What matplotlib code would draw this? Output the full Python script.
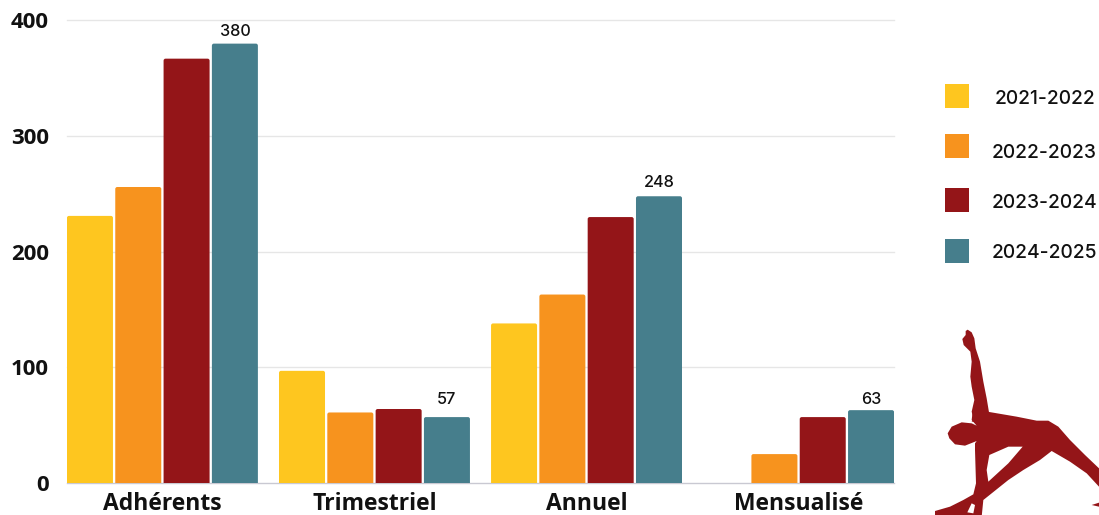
import matplotlib as mpl
mpl.use('Agg')
import matplotlib.pyplot as plt
from matplotlib.patches import FancyBboxPatch, Polygon, Rectangle
from matplotlib.transforms import Affine2D

categories = ['Adhérents', 'Trimestriel', 'Annuel', 'Mensualisé']
seasons = ['2021-2022', '2022-2023', '2023-2024', '2024-2025']
v_2021 = [231, 97, 138, None]
v_2022 = [256, 61, 163, 25]
v_2023 = [367, 64, 230, 57]
v_2024 = [380, 57, 248, 63]
yticks = [0, 100, 200, 300, 400]

colors = ['#FEC61F', '#F7931E', '#941518', '#467E8C']
W, H = 1099, 515

fig = plt.figure(figsize=(W / 100, H / 100), dpi=100)
ax = fig.add_axes([67 / W, (H - 483) / H, 827 / W, 462.5 / H])
ax.set_xlim(-0.45, 3.45)
ax.set_ylim(0, 400)

# pixels -> figure, y going down like in the picture
px = Affine2D().scale(1 / W, -1 / H).translate(0, 1) + fig.transFigure

bar_step = 48.3 / 212
bar_w = 46 / 212
for i, vals in enumerate([v_2021, v_2022, v_2023, v_2024]):
    for j, v in enumerate(vals):
        if v is None:
            continue
        x = j + (i - 1.5) * bar_step
        # rounded top, the bottom corners get clipped by the axes
        ax.add_patch(FancyBboxPatch((x - bar_w / 2, -10), bar_w, v + 10,
                                    boxstyle='round,pad=0,rounding_size=0.0095',
                                    mutation_aspect=183, fc=colors[i], ec='none', zorder=3))

# the labels do not sit at the same distance above their bars
label_gap = [12.5, 18, 14, 11]
for j, v in enumerate(v_2024):
    ax.annotate(str(v), (j + 1.5 * bar_step, v), xytext=(0, label_gap[j] * 0.72),
                textcoords='offset points', ha='center', va='center',
                family='Inter', fontsize=11.7, color='#111111', fontweight='medium')

for y in yticks:
    ax.axhline(y, color='#e6e6e6' if y else '#c9c9d2', lw=1, zorder=1, clip_on=False)

for s in ax.spines.values():
    s.set_visible(False)
ax.set_xticks(range(4))
ax.set_xticklabels(categories, family='Open Sans', fontweight='bold', fontsize=16.5, color='#111111')
ax.set_yticks(yticks)
ax.set_yticklabels(yticks, family='Open Sans', fontweight='bold', fontsize=16, color='#111111')
ax.tick_params(length=0)
ax.tick_params(axis='x', pad=6.5)
ax.tick_params(axis='y', pad=13)

# legend placed by hand, the rows are not evenly spaced
swatch_y = [84, 134, 188, 239]
label_y = [98.5, 153.5, 203.5, 253.5]
for c, s, sy, ly in zip(colors, seasons, swatch_y, label_y):
    fig.add_artist(Rectangle((945, sy + 24), 24, -24, fc=c, ec='none', transform=px))
    fig.text(1044.5 / W, 1 - ly / H, s, ha='center', va='center', family='Inter',
             fontsize=13.8, fontweight='medium', color='#111111')

arm = [(68, 14), (80, 22), (88, 40), (92, 70), (105, 110), (115, 170), (125, 220), (132, 262),
       (140, 290), (80, 290), (85, 280), (80, 260), (88, 225), (80, 185), (76, 155), (80, 110),
       (76, 80), (56, 60), (52, 42), (62, 30), (62, 18)]
body = [(172, 20), (260, 35), (320, 47), (355, 47), (385, 65), (420, 105), (465, 150), (507, 190),
        (507, 245), (470, 205), (420, 170), (365, 138), (330, 165), (280, 195), (235, 225),
        (185, 265), (160, 285), (155, 335), (15, 335), (15, 318), (60, 305), (100, 285),
        (130, 268), (138, 235), (135, 135), (135, 115), (140, 108), (105, 122), (75, 118),
        (58, 100), (53, 85), (65, 65), (95, 52), (125, 55), (140, 62), (125, 45), (128, 20)]
hole = [(178, 150), (235, 125), (278, 125), (235, 175), (175, 230), (170, 195)]
gap = [(125, 295), (135, 300), (130, 325), (112, 322)]
foot = [(485, 300), (507, 293), (507, 305)]

def crop(pts, x0, y0):
    return [(x0 + a / 3, y0 + b / 3) for a, b in pts]

red = '#941518'
fig.add_artist(Polygon(crop(arm, 945, 325), fc=red, ec='none', transform=px))
for pts, col in [(body, red), (hole, 'white'), (gap, 'white'), (foot, red)]:
    fig.add_artist(Polygon(crop(pts, 930, 405), fc=col, ec='none', transform=px))

fig.savefig('out.png', dpi=100)
